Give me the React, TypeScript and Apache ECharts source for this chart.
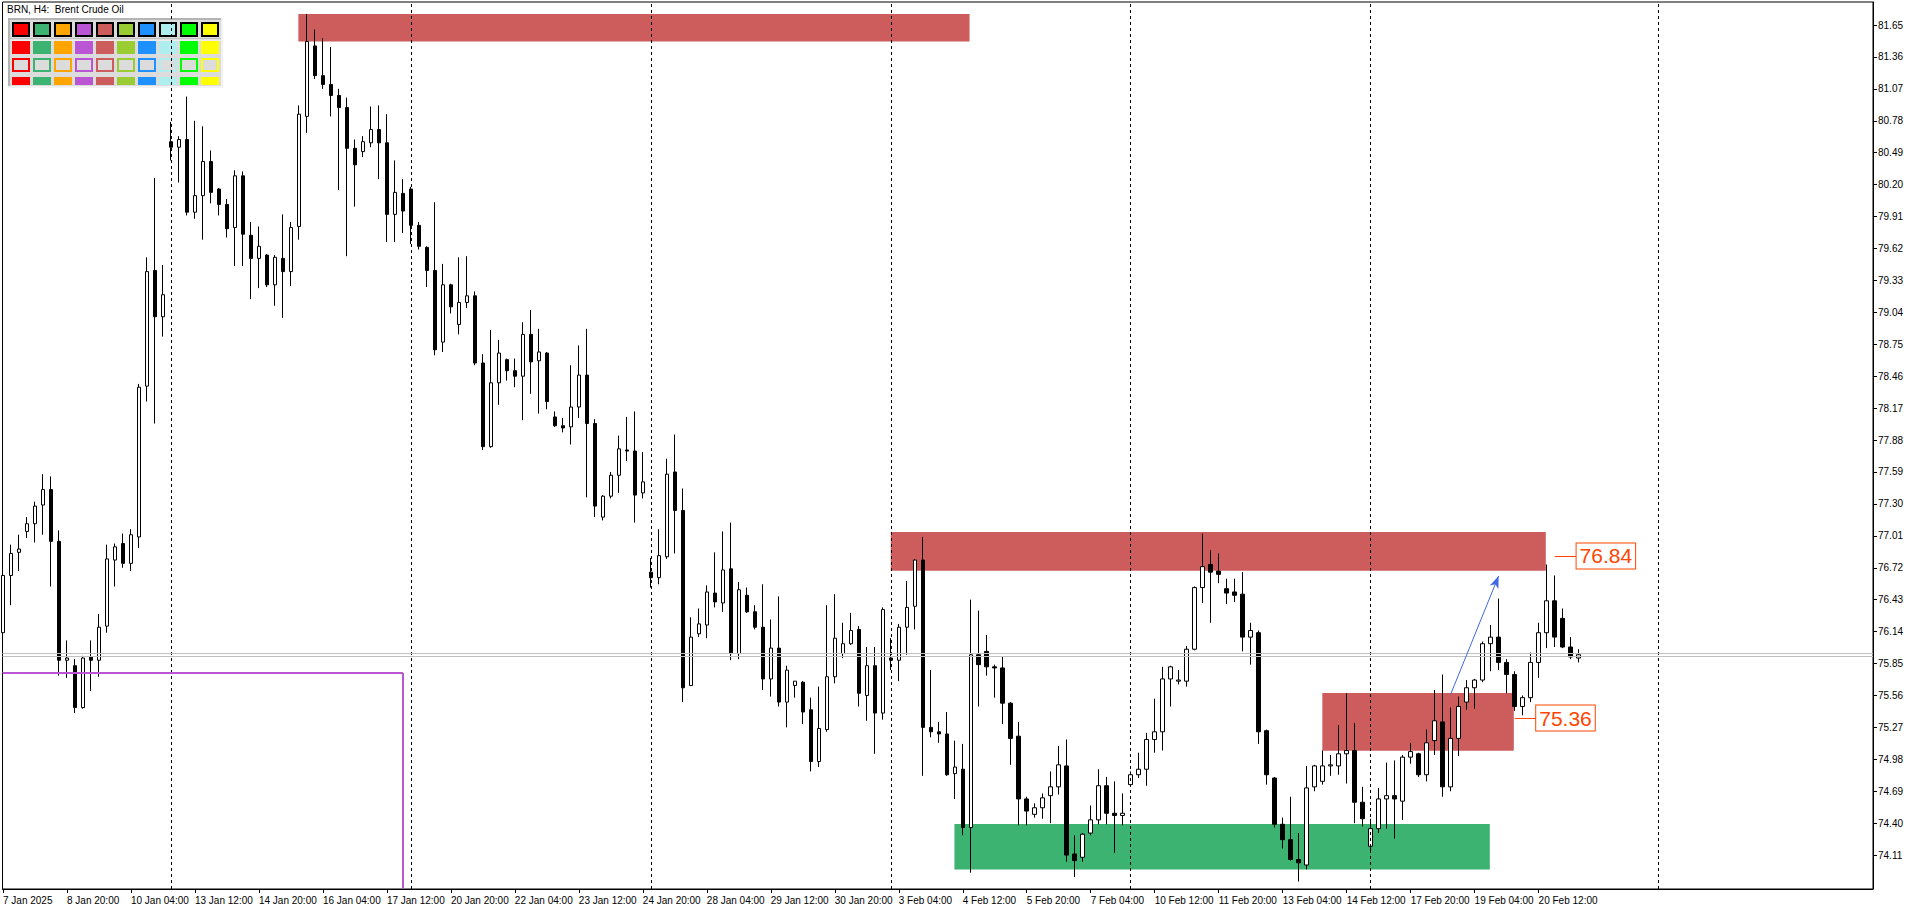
import React, { useEffect, useRef } from 'react';
import * as echarts from 'echarts';

// ---- data (H4 bars, index 0 = 7 Jan 2025 12:00) ----
const OPEN = [
  76.13, 76.65, 76.86, 77.05, 77.12, 77.29, 77.43, 76.96, 75.88, 75.83,
  75.45, 75.91, 75.88, 76.19, 76.79, 76.94, 76.76, 77.0, 78.37, 79.42,
  79.0, 80.59, 80.54, 80.61, 79.95, 80.1, 80.41, 80.16, 80.02, 79.81,
  80.28, 79.74, 79.53, 79.56, 79.29, 79.53, 79.41, 79.82, 80.82, 81.46,
  81.19, 81.11, 81.01, 80.9, 80.53, 80.5, 80.58, 80.7, 80.58, 79.93,
  80.12, 80.16, 79.83, 79.63, 79.42, 78.77, 79.29, 78.93, 79.13, 79.19,
  78.58, 77.82, 78.4, 78.61, 78.51, 78.46, 78.84, 78.6, 78.67, 78.09,
  78.01, 78.0, 78.18, 78.47, 78.03, 77.18, 77.37, 77.56, 77.79, 77.78,
  77.4, 76.68, 76.63, 76.82, 77.59, 77.24, 75.65, 76.12, 76.2, 76.49,
  76.4, 76.71, 75.94, 76.47, 76.32, 76.18, 75.71, 75.99, 75.5, 75.65,
  75.68, 75.43, 74.96, 75.25, 75.73, 75.94, 76.03, 76.16, 75.56, 75.83,
  75.4, 75.9, 75.88, 76.18, 76.37, 76.79, 75.27, 75.23, 75.21, 74.85,
  74.89, 74.36, 75.93, 75.96, 75.82, 75.81, 75.49, 75.19, 74.62, 74.48,
  74.54, 74.65, 74.73, 74.92, 74.12, 74.09, 74.31, 74.43, 74.74, 74.49,
  74.47, 74.75, 74.84, 74.89, 75.16, 75.23, 75.71, 75.69, 75.69, 75.98,
  76.54, 76.75, 76.69, 76.53, 76.5, 76.48, 76.09, 76.13, 75.24, 74.81,
  74.39, 74.25, 74.07, 74.02, 74.73, 74.78, 74.92, 74.92, 75.03, 75.06,
  74.59, 74.19, 74.35, 74.62, 74.65, 74.6, 75.0, 75.03, 74.84, 75.15,
  75.32, 74.73, 75.17, 75.5, 75.63, 75.7, 76.03, 76.09, 75.86, 75.75,
  75.46, 75.54, 75.86, 76.13, 76.42, 76.26, 76.0, 75.9,
];
const HIGH = [
  76.8, 76.93, 77.02, 77.18, 77.32, 77.57, 77.55, 77.06, 76.06, 75.89,
  75.92, 76.06, 76.3, 76.93, 76.94, 77.03, 77.07, 78.39, 79.54, 80.26,
  79.47, 80.77, 80.64, 81.0, 80.78, 80.73, 80.51, 80.17, 80.07, 80.33,
  80.32, 79.86, 79.82, 79.57, 79.56, 79.93, 79.86, 80.92, 81.75, 81.61,
  81.53, 81.45, 81.07, 80.99, 80.61, 80.64, 80.91, 80.92, 80.84, 80.42,
  80.25, 80.18, 79.86, 79.64, 80.04, 79.48, 79.3, 79.54, 79.55, 79.23,
  78.66, 78.88, 78.79, 78.62, 78.62, 78.95, 79.06, 78.89, 78.68, 78.14,
  78.08, 78.56, 78.74, 78.89, 78.07, 77.38, 77.59, 77.92, 78.09, 78.14,
  77.77, 76.81, 77.07, 77.71, 77.93, 77.44, 76.27, 76.35, 76.56, 76.86,
  77.05, 77.13, 76.59, 76.54, 76.38, 76.57, 76.25, 76.46, 75.83, 75.69,
  75.69, 75.54, 75.64, 76.38, 76.48, 76.22, 76.31, 76.19, 76.0, 76.0,
  76.36, 76.08, 76.21, 76.6, 76.8, 77.0, 75.79, 75.32, 75.41, 75.15,
  75.12, 76.43, 76.33, 76.11, 75.84, 75.91, 75.5, 75.32, 74.64, 74.58,
  74.67, 74.87, 75.1, 75.16, 74.29, 74.31, 74.56, 74.89, 74.82, 74.78,
  74.67, 74.87, 75.04, 75.22, 75.53, 75.82, 75.83, 75.79, 76.01, 76.55,
  77.03, 76.88, 76.85, 76.62, 76.62, 76.68, 76.22, 76.15, 75.25, 74.82,
  74.45, 74.64, 74.31, 74.92, 74.93, 75.06, 75.02, 75.29, 75.58, 75.31,
  74.73, 74.44, 74.72, 74.95, 74.97, 75.02, 75.13, 75.04, 75.25, 75.61,
  75.75, 75.45, 75.55, 75.7, 75.71, 76.05, 76.2, 76.44, 75.89, 75.78,
  75.56, 75.95, 76.22, 76.75, 76.65, 76.35, 76.09, 75.98,
];
const LOW = [
  76.05, 76.38, 76.69, 76.99, 76.95, 77.02, 76.55, 75.74, 75.72, 75.4,
  75.44, 75.6, 75.73, 76.13, 76.55, 76.72, 76.69, 76.9, 78.23, 78.03,
  78.82, 80.42, 80.22, 79.92, 79.89, 79.7, 80.03, 79.92, 79.72, 79.46,
  79.46, 79.16, 79.26, 79.27, 79.1, 78.99, 79.28, 79.7, 80.67, 81.16,
  81.07, 80.82, 80.15, 79.55, 80.0, 80.45, 80.54, 80.25, 79.68, 79.68,
  79.76, 79.66, 79.61, 79.27, 78.65, 78.68, 79.03, 78.84, 79.08, 78.56,
  77.79, 77.81, 78.2, 78.42, 78.36, 78.06, 78.3, 78.12, 78.16, 78.0,
  77.95, 77.84, 78.08, 77.36, 77.18, 77.15, 77.35, 77.4, 77.69, 77.13,
  77.35, 76.54, 76.57, 76.8, 76.85, 75.5, 75.65, 76.09, 76.08, 76.36,
  76.32, 75.88, 75.89, 76.31, 76.16, 75.61, 75.55, 75.46, 75.27, 75.54,
  75.3, 74.87, 74.91, 75.23, 75.67, 75.9, 76.02, 75.46, 75.33, 75.03,
  75.34, 75.79, 75.69, 75.93, 76.16, 74.83, 75.18, 75.13, 74.83, 74.62,
  74.29, 73.95, 75.46, 75.74, 75.54, 75.3, 74.93, 74.38, 74.38, 74.45,
  74.44, 74.4, 74.66, 74.05, 73.91, 74.05, 74.29, 74.39, 74.39, 74.13,
  74.38, 74.75, 74.81, 74.74, 75.04, 75.06, 75.46, 75.66, 75.64, 75.97,
  76.4, 76.22, 76.58, 76.39, 76.41, 75.96, 75.84, 75.12, 74.75, 74.36,
  74.17, 74.06, 73.87, 73.98, 74.69, 74.75, 74.83, 74.84, 74.76, 74.4,
  74.37, 74.14, 74.31, 74.35, 74.26, 74.43, 74.94, 74.82, 74.78, 75.02,
  74.64, 74.69, 75.01, 75.43, 75.44, 75.68, 75.78, 75.79, 75.58, 75.42,
  75.38, 75.5, 75.72, 75.99, 76.0, 75.99, 75.89, 75.86,
];
const CLOSE = [
  76.65, 76.85, 76.89, 77.12, 77.28, 77.43, 76.96, 75.88, 75.9, 75.45,
  75.9, 75.88, 76.18, 76.8, 76.91, 76.76, 77.02, 78.36, 79.41, 79.0,
  79.2, 80.54, 80.61, 79.95, 80.1, 80.41, 80.13, 80.02, 79.8, 80.28,
  79.75, 79.53, 79.64, 79.29, 79.54, 79.41, 79.81, 80.84, 81.5, 81.19,
  81.11, 81.01, 80.9, 80.53, 80.38, 80.59, 80.7, 80.58, 79.93, 80.13,
  79.96, 79.83, 79.64, 79.42, 78.7, 79.29, 79.09, 79.13, 79.19, 78.58,
  77.82, 78.4, 78.67, 78.51, 78.46, 78.84, 78.59, 78.68, 78.23, 78.01,
  77.99, 78.18, 78.47, 78.03, 77.28, 77.37, 77.56, 77.8, 77.78, 77.38,
  77.5, 76.63, 76.83, 77.57, 77.24, 75.63, 76.09, 76.21, 76.5, 76.41,
  76.7, 75.94, 76.52, 76.32, 76.18, 75.71, 75.99, 75.5, 75.79, 75.69,
  75.41, 74.96, 75.26, 75.73, 76.08, 76.03, 76.15, 75.58, 75.83, 75.4,
  76.34, 75.88, 76.18, 76.36, 76.79, 75.27, 75.23, 75.21, 74.84, 74.91,
  74.36, 75.93, 75.84, 75.82, 75.81, 75.49, 75.17, 74.62, 74.51, 74.54,
  74.63, 74.73, 74.93, 74.11, 74.06, 74.3, 74.43, 74.74, 74.49, 74.47,
  74.49, 74.84, 74.89, 75.16, 75.23, 75.71, 75.82, 75.7, 75.98, 76.54,
  76.73, 76.68, 76.66, 76.49, 76.47, 76.09, 76.15, 75.23, 74.84, 74.39,
  74.25, 74.07, 74.04, 74.72, 74.92, 74.92, 74.93, 75.03, 75.06, 74.59,
  74.44, 74.35, 74.62, 74.65, 74.62, 75.0, 75.05, 74.84, 75.13, 75.33,
  74.73, 75.17, 75.46, 75.63, 75.7, 76.03, 76.09, 75.86, 75.75, 75.46,
  75.54, 75.86, 76.13, 76.42, 76.09, 76.0, 75.91, 75.93,
];

const X_LABELS = [
  '7 Jan 2025', '8 Jan 20:00', '10 Jan 04:00', '13 Jan 12:00', '14 Jan 20:00',
  '16 Jan 04:00', '17 Jan 12:00', '20 Jan 20:00', '22 Jan 04:00', '23 Jan 12:00',
  '24 Jan 20:00', '28 Jan 04:00', '29 Jan 12:00', '30 Jan 20:00', '3 Feb 04:00',
  '4 Feb 12:00', '5 Feb 20:00', '7 Feb 04:00', '10 Feb 12:00', '11 Feb 20:00',
  '13 Feb 04:00', '14 Feb 12:00', '17 Feb 20:00', '19 Feb 04:00', '20 Feb 12:00',
];
const X_LABEL_BARS = [
  0, 8, 16, 24, 32, 40, 48, 56, 64, 72, 80, 88, 96, 104, 112, 120, 128, 136,
  144, 152, 160, 168, 176, 184, 192,
];
const Y_TICKS = [
  74.11, 74.4, 74.69, 74.98, 75.27, 75.56, 75.85, 76.14, 76.43, 76.72, 77.01,
  77.3, 77.59, 77.88, 78.17, 78.46, 78.75, 79.04, 79.33, 79.62, 79.91, 80.2,
  80.49, 80.78, 81.07, 81.36, 81.65,
];
const WEEK_SEPARATORS = [21, 51, 81, 111, 141, 171, 207];
const BID = 75.93;
const BID_LINES = [75.937, 75.919];
// zones: [x from, price top, x to, price bottom]
const RED_ZONES = [
  [36.93, 81.75, 120.85, 81.5],
  [111.0, 77.045, 192.9, 76.693],
  [164.96, 75.583, 188.9, 75.058],
];
const GREEN_ZONES = [[118.96, 74.393, 185.9, 73.978]];
const PURPLE_BOX_RIGHT = 50;
const PURPLE_BOX_TOP = 75.764;
const ARROW_FROM = [181.0, 75.57];
const ARROW_TO = [187.0, 76.645];
const LEVEL_TEXT = ['76.84', '75.36'];
const LEVEL_PRICE = [76.827, 75.355];
const LEVEL_FROM = [194.0, 189.0];
const LEVEL_TO = [196.75, 191.7];

const X_MIN = -0.06;
const X_MAX = 233.81;
const Y_MIN = 73.802;
const Y_MAX = 81.859;

const PALETTE = ['#FF0000', '#3CB371', '#FFA500', '#BA55D3', '#CD5C5C', '#9ACD32', '#1E90FF', '#AFEEEE', '#00FF00', '#FFFF00'];
const UI_FONT = "'Liberation Sans', Arial, sans-serif";
const UI_SIZE = 10;

function buildPanel() {
  const children: any[] = [];
  children.push({ type: 'rect', shape: { x: 8, y: 18, width: 215, height: 70 }, style: { fill: '#DCDCDC', stroke: null } });
  children.push({ type: 'rect', shape: { x: 8, y: 18, width: 2, height: 70 }, style: { fill: '#B4B4B4' } });
  children.push({ type: 'rect', shape: { x: 8, y: 18, width: 215, height: 2 }, style: { fill: '#B4B4B4' } });
  children.push({ type: 'rect', shape: { x: 8, y: 86, width: 215, height: 2 }, style: { fill: '#F2F2F2' } });
  children.push({ type: 'rect', shape: { x: 221, y: 18, width: 2, height: 70 }, style: { fill: '#F2F2F2' } });
  children.push({ type: 'rect', shape: { x: 10, y: 38.5, width: 211, height: 1 }, style: { fill: '#A8A8A8' } });
  children.push({ type: 'rect', shape: { x: 10, y: 39.5, width: 211, height: 1 }, style: { fill: '#FFFFFF' } });
  PALETTE.forEach((c, k) => {
    const x = 12 + 21 * k;
    children.push({ type: 'rect', shape: { x: x + 1, y: 23, width: 16, height: 13 }, style: { fill: c, stroke: '#000', lineWidth: 2 } });
    children.push({ type: 'rect', shape: { x, y: 41, width: 18, height: 13 }, style: { fill: c } });
    children.push({ type: 'rect', shape: { x: x + 1, y: 59, width: 16, height: 12 }, style: { fill: '#DCDCDC', stroke: c, lineWidth: 2 } });
    children.push({ type: 'rect', shape: { x, y: 77, width: 18, height: 8 }, style: { fill: c } });
  });
  return children;
}

export default function App() {
  const ref = useRef<HTMLDivElement>(null);

  useEffect(() => {
    if (!ref.current) return;
    const chart = echarts.init(ref.current, null, { renderer: 'svg' });

    const candles = OPEN.map((o, i) => [i, o, CLOSE[i], LOW[i], HIGH[i]]);

    const zoneArea = (z: number[], color: string) => [
      { coord: [z[0], z[1]], itemStyle: { color, opacity: 1 } },
      { coord: [z[2], z[3]] },
    ];

    const levelLines = LEVEL_TEXT.map((t, k) => {
      const lbl = {
        show: true,
        position: 'end',
        distance: 0,
        formatter: t,
        color: '#FF4500',
        fontSize: 21,
        fontFamily: "'Liberation Sans', Arial, sans-serif",
        lineHeight: 22,
        backgroundColor: '#FFFFFF',
        borderColor: '#FF4500',
        borderWidth: 1,
        padding: [2, 3, 1, 3],
      };
      const ls = { color: '#FF4500', width: 1, type: 'solid' };
      return [
        { coord: [LEVEL_FROM[k], LEVEL_PRICE[k]], label: lbl, lineStyle: ls, symbol: 'none' },
        { coord: [LEVEL_TO[k], LEVEL_PRICE[k]], label: lbl, lineStyle: ls, symbol: 'none' },
      ];
    });

    const purple = { color: '#BA55D3', width: 2, type: 'solid' };
    const arrowStyle = { color: '#4169E1', width: 1, type: 'solid' };

    const option: any = {
      animation: false,
      backgroundColor: '#FFFFFF',
      textStyle: { fontFamily: UI_FONT },
      grid: {
        left: 2,
        right: 43,
        top: 2,
        bottom: 22,
        show: true,
        borderColor: '#000',
        borderWidth: 1,
        backgroundColor: 'transparent',
      },
      xAxis: {
        type: 'value',
        min: X_MIN,
        max: X_MAX,
        splitLine: { show: false },
        axisLine: { show: true, onZero: false, lineStyle: { color: '#000', width: 1 } },
        axisTick: { show: true, length: 4, customValues: X_LABEL_BARS, lineStyle: { color: '#000' } },
        axisLabel: {
          customValues: X_LABEL_BARS,
          formatter: (v: number) => {
            const k = X_LABEL_BARS.indexOf(Math.round(v));
            return k >= 0 ? X_LABELS[k] : '';
          },
          showMinLabel: true,
          showMaxLabel: true,
          hideOverlap: false,
          align: 'left',
          margin: 6,
          color: '#000',
          fontSize: UI_SIZE,
          fontFamily: UI_FONT,
        },
      },
      yAxis: {
        type: 'value',
        position: 'right',
        min: Y_MIN,
        max: Y_MAX,
        scale: true,
        splitLine: { show: false },
        axisLine: { show: true, onZero: false, lineStyle: { color: '#000', width: 1 } },
        axisTick: { show: true, length: 4, customValues: Y_TICKS, lineStyle: { color: '#000' } },
        axisLabel: {
          customValues: Y_TICKS,
          formatter: (v: number) => v.toFixed(2),
          showMinLabel: true,
          showMaxLabel: true,
          margin: 5,
          color: '#000',
          fontSize: UI_SIZE,
          fontFamily: UI_FONT,
        },
      },
      graphic: [
        ...buildPanel(),
        {
          type: 'text',
          x: 7,
          y: 4,
          style: { text: 'BRN, H4:  Brent Crude Oil', fill: '#000', font: `${UI_SIZE}px ${UI_FONT}` },
        },
      ],
      series: [
        {
          name: 'zones',
          type: 'line',
          data: [],
          z: 1,
          silent: true,
          markArea: {
            silent: true,
            label: { show: false },
            data: [
              ...RED_ZONES.map((z) => zoneArea(z, '#CD5C5C')),
              ...GREEN_ZONES.map((z) => zoneArea(z, '#3CB371')),
            ],
          },
        },
        {
          name: 'separators',
          type: 'line',
          data: [],
          z: 2,
          silent: true,
          clip: false,
          markLine: {
            silent: true,
            symbol: ['none', 'none'],
            label: { show: false },
            data: [
              ...WEEK_SEPARATORS.map((v) => ({
                xAxis: v,
                lineStyle: { color: '#000', width: 1, type: [3, 3] },
              })),
              ...BID_LINES.map((v) => ({
                yAxis: v,
                lineStyle: { color: '#C0C0C0', width: 1, type: 'solid' },
              })),
              {
                yAxis: BID,
                lineStyle: { color: '#C0C0C0', width: 1, opacity: 0 },
                label: {
                  show: true,
                  position: 'end',
                  distance: 1,
                  formatter: BID.toFixed(2),
                  color: '#FFFFFF',
                  backgroundColor: '#C0C0C0',
                  fontSize: UI_SIZE,
                  fontFamily: UI_FONT,
                  padding: [1, 2, 0, 2],
                },
              },
            ],
          },
        },
        {
          name: 'BRN',
          type: 'candlestick',
          z: 3,
          data: candles,
          encode: { x: 0, y: [1, 2, 3, 4] },
          barWidth: 4,
          clip: true,
          itemStyle: {
            color: '#FFFFFF',
            color0: '#000000',
            borderColor: '#000000',
            borderColor0: '#000000',
            borderColorDoji: '#000000',
            borderWidth: 1,
          },
        },
        {
          name: 'objects',
          type: 'line',
          data: [],
          z: 4,
          silent: true,
          clip: false,
          markLine: {
            silent: true,
            symbol: ['none', 'none'],
            label: { show: false },
            data: [
              [
                { coord: [X_MIN, PURPLE_BOX_TOP], lineStyle: purple },
                { coord: [PURPLE_BOX_RIGHT, PURPLE_BOX_TOP], lineStyle: purple },
              ],
              [
                { coord: [PURPLE_BOX_RIGHT, PURPLE_BOX_TOP], lineStyle: purple },
                { coord: [PURPLE_BOX_RIGHT, Y_MIN], lineStyle: purple },
              ],
              [
                { coord: ARROW_FROM, lineStyle: arrowStyle, symbol: 'none' },
                { coord: ARROW_TO, lineStyle: arrowStyle, symbol: 'arrow', symbolSize: [7, 12] },
              ],
              ...levelLines,
            ],
          },
        },
      ],
    };

    chart.setOption(option);
    return () => chart.dispose();
  }, []);

  return (
    <div
      ref={ref}
      style={{ position: 'fixed', left: 0, top: 0, width: 1916, height: 911, background: '#fff' }}
    />
  );
}
